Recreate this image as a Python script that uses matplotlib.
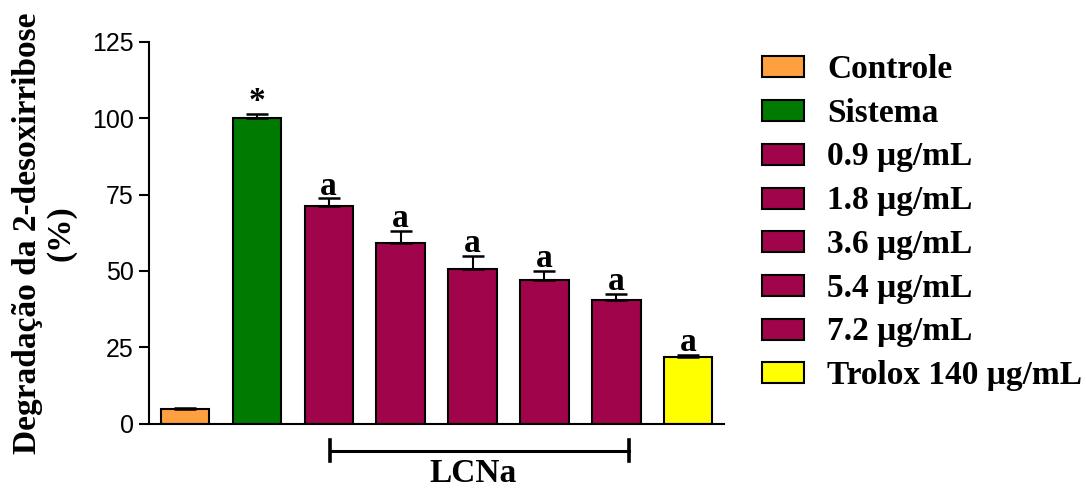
import matplotlib.pyplot as plt
from matplotlib.patches import Rectangle
import numpy as np

# Data
labels = ['Controle', 'Sistema', '0.9 \u03bcg/mL', '1.8 \u03bcg/mL', '3.6 \u03bcg/mL',
          '5.4 \u03bcg/mL', '7.2 \u03bcg/mL', 'Trolox 140 \u03bcg/mL']
values = [4.7, 100.0, 71.2, 59.2, 50.8, 47.0, 40.5, 21.9]
errors = [0.4, 1.3, 2.6, 4.0, 4.1, 3.0, 2.0, 0.7]
marks = ['', '*', 'a', 'a', 'a', 'a', 'a', 'a']
colors = ['#FFA040', '#007A00', '#A0044A', '#A0044A', '#A0044A',
          '#A0044A', '#A0044A', '#FFFF00']
yticks = [0, 25, 50, 75, 100, 125]
group_label = 'LCNa'
group_span = [2.02, 6.17]

serif = 'Liberation Serif'
sans = 'Liberation Sans'

fig = plt.figure(figsize=(10.86, 4.9), dpi=100)
ax = fig.add_axes([0.137, 0.135, 0.530, 0.780])

x = np.arange(len(values))
ax.bar(x, values, width=0.67, color=colors, edgecolor='black', linewidth=1.5, zorder=2)
ax.errorbar(x, values, yerr=[np.zeros(len(errors)), errors], fmt='none',
            ecolor='black', elinewidth=1.5, capsize=8, capthick=1.8, zorder=3)

for xi, v, e, m in zip(x, values, errors, marks):
    if m:
        ax.text(xi, v + e + 1.2, m, ha='center', va='baseline', fontsize=24,
                fontweight='bold', family=serif)

ax.set_xlim(-0.5, 7.5)
ax.set_ylim(0, 125)
ax.set_yticks(yticks)
ax.set_xticks([])
for lab in ax.get_yticklabels():
    lab.set_family(sans)
ax.tick_params(axis='y', labelsize=18, length=7, width=1.5, direction='out', pad=4)
ax.spines['top'].set_visible(False)
ax.spines['right'].set_visible(False)
ax.spines['left'].set_linewidth(1.5)
ax.spines['bottom'].set_linewidth(1.5)

ax.set_ylabel('Degrada\u00e7\u00e3o da 2-desoxirribose\n(%)', fontsize=24,
              fontweight='bold', family=serif, labelpad=11, linespacing=1.1)

# group bracket
by = -8.8
ax.plot(group_span, [by, by], color='black', lw=2.2, clip_on=False)
for gx in group_span:
    ax.plot([gx, gx], [by - 3.4, by + 3.4], color='black', lw=2.6, clip_on=False)
ax.text(4.0, -19.0, group_label, ha='center', va='baseline', fontsize=24,
        fontweight='bold', family=serif)

# legend drawn by hand
W, H = 1086.0, 490.0
for i, (lab, c) in enumerate(zip(labels, colors)):
    yc = 67 + i * 43.7
    fig.patches.append(Rectangle((762 / W, 1 - (yc + 10.5) / H), 42 / W, 21 / H,
                                 facecolor=c, edgecolor='black', linewidth=1.5,
                                 transform=fig.transFigure, figure=fig))
    fig.text(827 / W, 1 - (yc + 11) / H, lab, ha='left', va='baseline', fontsize=24,
             fontweight='bold', family=serif)

fig.savefig('out.png', dpi=100)
